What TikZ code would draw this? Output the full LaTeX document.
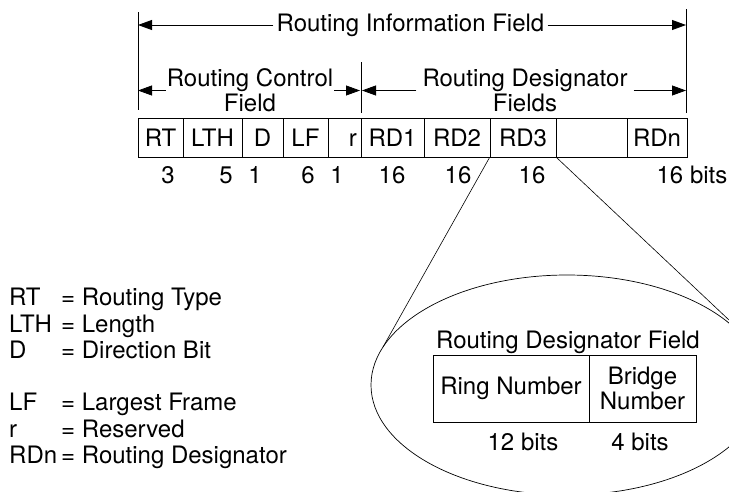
\documentclass[tikz,border=0pt]{standalone}
\usepackage{fontspec}
\setmainfont{TeX Gyre Heros}
\usetikzlibrary{arrows.meta,shapes.geometric}
\begin{document}
\begin{tikzpicture}[x=1pt,y=-1pt,
  every node/.style={font=\fontsize{24}{25}\selectfont, inner sep=0pt},
  cell/.style={draw, line width=0.8pt, minimum height=39pt, anchor=center},
  ln/.style={line width=0.8pt},
  arr/.style={line width=0.8pt, -{Triangle[length=14pt,width=10pt]}},
  lbl/.style={align=center, inner xsep=3pt},
  tx/.style={anchor=base},
  lg/.style={anchor=base west},
]
\useasboundingbox (0,0) rectangle (729,491);
\clip (0,0) rectangle (729,491);

% vertical limit lines
\coordinate (l1) at (138,12);  \coordinate (l2) at (138,110);
\coordinate (r1) at (686,9);   \coordinate (r2) at (686,113);
\coordinate (m1) at (361,62);  \coordinate (m2) at (361,113);
\draw[ln] (l1) -- (l2);
\draw[ln] (r1) -- (r2);
\draw[ln] (m1) -- (m2);

% top label
\node[lbl] (rif) at (410.5,25) {Routing Information Field};
\coordinate (rifL) at (138,25);
\coordinate (rifR) at (686,25);
\draw[arr] (rif.west) -- (rifL);
\draw[arr] (rif.east) -- (rifR);

% control field
\node[lbl, inner xsep=1pt] (rcf) at (250,90.5) {Routing Control\\Field};
\coordinate (rcfL) at (138,90.5);
\coordinate (rcfR) at (360,90.5);
\draw[arr] (rcf.west) -- (rcfL);
\draw[arr] (rcf.east) -- (rcfR);

% designator fields
\node[lbl, inner xsep=6pt] (rdf) at (525,90.5) {Routing Designator\\Fields};
\coordinate (rdfL) at (362,90.5);
\coordinate (rdfR) at (686,90.5);
\draw[arr] (rdf.west) -- (rdfL);
\draw[arr] (rdf.east) -- (rdfR);

% cells
\node[cell, minimum width=45pt] (rt)  at (160.5,137.5) {RT};
\node[cell, minimum width=59pt] (lth) at (212.5,137.5) {LTH};
\node[cell, minimum width=41pt] (d)   at (262.5,137.5) {D};
\node[cell, minimum width=45pt] (lf)  at (305.5,137.5) {LF};
\node[cell, minimum width=33pt] (r) at (344.5,137.5) {};
\node[tx, anchor=base east] (rtxt) at (357,146) {r};
\node[cell, minimum width=63pt] (rd1) at (392.5,137.5) {RD1};
\node[cell, minimum width=66pt] (rd2) at (457,137.5) {RD2};
\node[cell, minimum width=66pt] (rd3) at (523,137.5) {RD3};
\node[cell, minimum width=71pt] (blank) at (591.5,137.5) {};
\node[cell, minimum width=60pt] (rdn) at (657,137.5) {RDn};

% bit counts
\node[tx] (n1) at (168,183.5) {3};
\node[tx] (n2) at (226,183.5) {5};
\node[tx] (n3) at (255,183.5) {1};
\node[tx] (n4) at (308,183.5) {6};
\node[tx] (n5) at (337,183.5) {1};
\node[tx] (n6) at (392,183.5) {16};
\node[tx] (n7) at (458,183.5) {16};
\node[tx] (n8) at (532,183.5) {16};
\node[tx] (n9) at (692,183.5) {16 bits};

% legend
\node[lg] (k1) at (9,305.5) {RT};
\node[lg] (k2) at (9,332)   {LTH};
\node[lg] (k3) at (9,358.5) {D};
\node[lg] (k4) at (9,410.5) {LF};
\node[lg] (k5) at (9,437)   {r};
\node[lg] (k6) at (9,463.5) {RDn};
\node[lg] (v1) at (61,305.5) {= Routing Type};
\node[lg] (v2) at (61,332)   {= Length};
\node[lg] (v3) at (61,358.5) {= Direction Bit};
\node[lg] (v4) at (61,410.5) {= Largest Frame};
\node[lg] (v5) at (61,437)   {= Reserved};
\node[lg] (v6) at (61,463.5) {= Routing Designator};

% magnified ellipse
\node[draw, line width=0.7pt, ellipse, minimum width=392pt, minimum height=220pt] (ell) at (567,385) {};
\coordinate (tl) at (383,347);
\coordinate (tr) at (729,320);
\draw[line width=0.6pt] (rd3.south west) -- (tl);
\draw[line width=0.6pt] (rd3.south east) -- (tr);

% designator field detail
\node[tx] (rdtitle) at (568,348.5) {Routing Designator Field};
\node[cell, minimum width=156pt, minimum height=67pt] (ring) at (511,388.5) {Ring Number};
\node[cell, minimum width=107pt, minimum height=67pt, align=center] (bridge) at (642.5,388.5) {Bridge\\Number};
\node[tx] (b12) at (523,450.5) {12 bits};
\node[tx] (b4) at (640,450.5) {4 bits};
\end{tikzpicture}
\end{document}
